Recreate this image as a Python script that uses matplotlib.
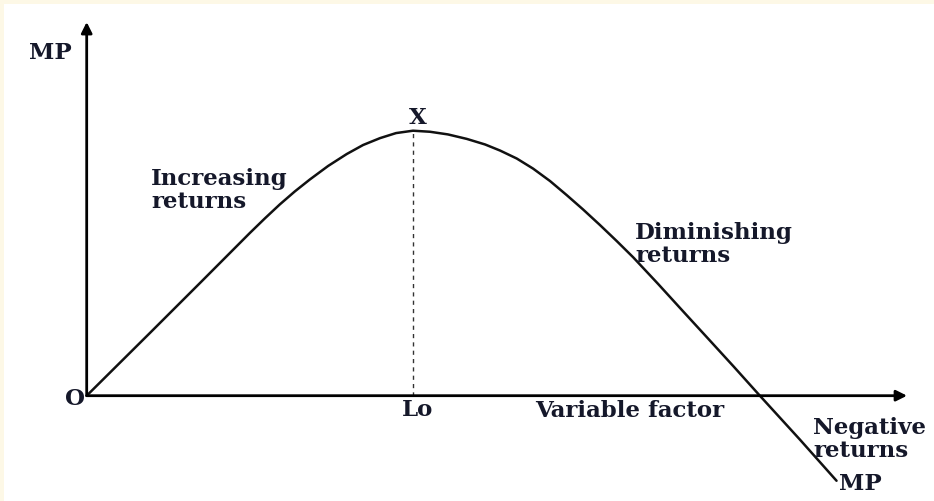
import matplotlib
matplotlib.use("Agg")
import matplotlib.pyplot as plt
from matplotlib.patches import Rectangle

# MP curve (variable factor units, marginal product units)
factor_units = [0.0, 1.94, 3.47, 5.00, 5.46, 5.92, 6.38, 6.84, 7.40, 7.97, 8.47,
                8.99, 9.48, 10.0, 10.52, 11.07, 11.65, 12.21, 12.67, 13.18, 13.68,
                14.20, 14.71, 15.21, 15.73, 16.24, 16.75, 17.51, 18.28, 19.04,
                19.82, 20.63, 21.86, 22.98]
mp_values = [0.0, 2.37, 4.25, 6.14, 6.69, 7.22, 7.71, 8.16, 8.67, 9.12, 9.46,
             9.72, 9.91, 10.0, 9.96, 9.86, 9.69, 9.48, 9.25, 8.95, 8.57,
             8.10, 7.57, 7.03, 6.44, 5.84, 5.22, 4.22, 3.18, 2.16,
             1.11, 0.0, -1.66, -3.21]
peak_factor = 10.0   # L0
peak_mp = 10.0       # point X

cream = "#fdf8e6"
ink = "#15182a"

fig = plt.figure(figsize=(9.34, 5.02), dpi=100, facecolor="white")
ax = fig.add_axes([0, 0, 1, 1])
ax.set_xlim(-2.657, 25.967)
ax.set_ylim(-3.974, 14.970)
ax.axis("off")

# cream strips along the top and left edge
fig.add_artist(Rectangle((0, 1 - 5 / 502), 1, 5 / 502, transform=fig.transFigure,
                         facecolor=cream, edgecolor="none"))
fig.add_artist(Rectangle((0, 0), 4 / 934, 1, transform=fig.transFigure,
                         facecolor=cream, edgecolor="none"))

# axes with arrows
arrow = dict(arrowstyle="-|>", color="black", lw=2.0, mutation_scale=16,
             shrinkA=0, shrinkB=0)
ax.annotate("", xy=(25.14, 0), xytext=(0, 0), arrowprops=arrow)
ax.annotate("", xy=(0, 14.10), xytext=(0, 0), arrowprops=arrow)

ax.plot(factor_units, mp_values, color="#111111", lw=1.8,
        solid_capstyle="round", solid_joinstyle="round")
ax.plot([peak_factor, peak_factor], [0, peak_mp], color="#333333", lw=1.0,
        dashes=(3, 3))

font = dict(family="DejaVu Serif", fontweight="bold", color=ink, fontsize=16.5)
ax.text(-1.12, 12.97, "MP", ha="center", va="center", **font)
ax.text(-0.36, -0.09, "O", ha="center", va="center", **font)
ax.text(10.15, 10.52, "X", ha="center", va="center", **font)
ax.text(10.15, -0.50, "Lo", ha="center", va="center", **font)
ax.text(1.97, 8.63, "Increasing\nreturns", ha="left", va="top", linespacing=1.08, **font)
ax.text(16.80, 6.59, "Diminishing\nreturns", ha="left", va="top", linespacing=1.08, **font)
ax.text(16.65, -0.54, "Variable factor", ha="center", va="center", **font)
ax.text(22.26, -0.77, "Negative\nreturns", ha="left", va="top", linespacing=1.08, **font)
ax.text(23.70, -3.29, "MP", ha="center", va="center", **font)

fig.savefig("out.png", dpi=100, facecolor="white")
